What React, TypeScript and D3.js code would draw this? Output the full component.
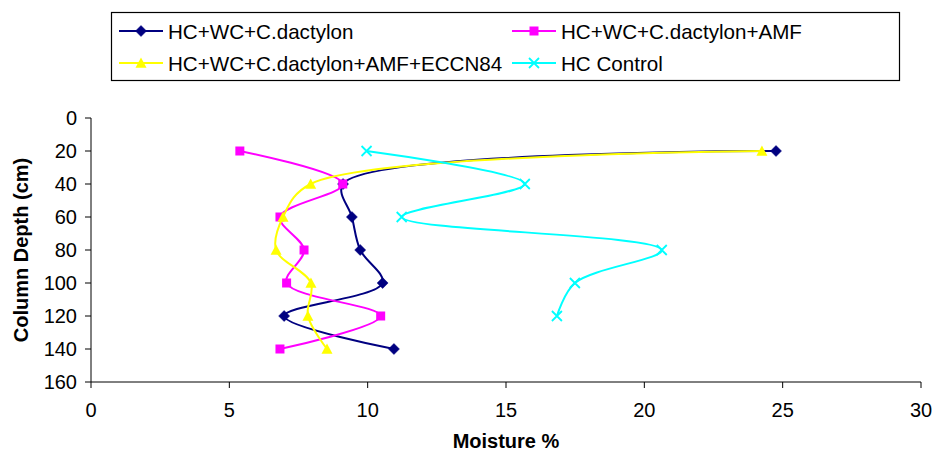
import React from "react";
import * as d3 from "d3";

const depths = [20, 40, 60, 80, 100, 120, 140];
const seriesNames = [
  "HC+WC+C.dactylon",
  "HC+WC+C.dactylon+AMF",
  "HC+WC+C.dactylon+AMF+ECCN84",
  "HC Control",
];
const dactylon = [24.76, 9.11, 9.43, 9.73, 10.54, 6.98, 10.95];
const dactylonAMF = [5.38, 9.1, 6.83, 7.7, 7.07, 10.47, 6.83];
const dactylonAMFECCN = [24.25, 7.94, 6.94, 6.69, 7.95, 7.84, 8.53];
const hcControl = [9.96, 15.68, 11.23, 20.63, 17.49, 16.84];
const xTicks = [0, 5, 10, 15, 20, 25, 30];
const yTicks = [0, 20, 40, 60, 80, 100, 120, 140, 160];

const colors = ["#000080", "#FF00FF", "#FFFF00", "#00FFFF"];
const markerTypes = ["diamond", "square", "triangle", "x"];

const W = 936;
const H = 456;
const left = 91, right = 921, top = 118, bottom = 382;
const font = "'Liberation Sans', Arial, sans-serif";

function Marker({ type, x, y, color }: { type: string; x: number; y: number; color: string }) {
  if (type === "diamond") {
    const s = 5.5;
    return <path d={`M${x},${y - s}L${x + s},${y}L${x},${y + s}L${x - s},${y}Z`} fill={color} stroke={color} strokeWidth={0.5} />;
  }
  if (type === "square") {
    const s = 4.5;
    return <rect x={x - s} y={y - s} width={2 * s} height={2 * s} fill={color} />;
  }
  if (type === "triangle") {
    const s = 5.5;
    return <path d={`M${x},${y - s}L${x + s},${y + s * 0.85}L${x - s},${y + s * 0.85}Z`} fill={color} />;
  }
  const s = 5;
  return (
    <path d={`M${x - s},${y - s}L${x + s},${y + s}M${x - s},${y + s}L${x + s},${y - s}`} stroke={color} strokeWidth={1.8} fill="none" />
  );
}

export default function App() {
  const x = d3.scaleLinear().domain([0, 30]).range([left, right]);
  const y = d3.scaleLinear().domain([0, 160]).range([top, bottom]);
  const allSeries = [dactylon, dactylonAMF, dactylonAMFECCN, hcControl];
  const line = d3
    .line<[number, number]>()
    .x((d) => x(d[0]))
    .y((d) => y(d[1]))
    .curve(d3.curveCatmullRom.alpha(0.5));

  const legendItems = [
    { lx: 119, ly: 31 },
    { lx: 512, ly: 31 },
    { lx: 119, ly: 63 },
    { lx: 512, ly: 63 },
  ];

  return (
    <svg width={W} height={H} style={{ position: "absolute", left: 0, top: 0, background: "#fff" }} fontFamily={font}>
      <rect x={0} y={0} width={W} height={H} fill="#fff" />
      {/* legend */}
      <rect x={111.5} y={12.5} width={788} height={68} fill="none" stroke="#000" strokeWidth={1.2} />
      {seriesNames.map((name, i) => {
        const { lx, ly } = legendItems[i];
        return (
          <g key={name}>
            <line x1={lx} x2={lx + 44} y1={ly} y2={ly} stroke={colors[i]} strokeWidth={2} />
            <Marker type={markerTypes[i]} x={lx + 22} y={ly} color={colors[i]} />
            <text x={lx + 49} y={ly + 7.5} fontSize={20.6} fill="#000">{name}</text>
          </g>
        );
      })}
      {/* axes */}
      <line x1={left} x2={left} y1={top} y2={bottom} stroke="#000" strokeWidth={1} />
      <line x1={left} x2={right} y1={bottom} y2={bottom} stroke="#000" strokeWidth={1} />
      {yTicks.map((t) => (
        <g key={"y" + t}>
          <line x1={left - 6} x2={left} y1={y(t)} y2={y(t)} stroke="#000" />
          <text x={77} y={y(t) + 7} textAnchor="end" fontSize={20} fill="#000">{t}</text>
        </g>
      ))}
      {xTicks.map((t) => (
        <g key={"x" + t}>
          <line x1={x(t)} x2={x(t)} y1={bottom} y2={bottom + 6} stroke="#000" />
          <text x={x(t)} y={417} textAnchor="middle" fontSize={20} fill="#000">{t}</text>
        </g>
      ))}
      <text x={(left + right) / 2} y={448} textAnchor="middle" fontSize={20} fontWeight="bold" fill="#000">Moisture %</text>
      <text transform={`translate(28,${(top + bottom) / 2}) rotate(-90)`} textAnchor="middle" fontSize={20} fontWeight="bold" fill="#000">Column Depth (cm)</text>
      {/* series */}
      {allSeries.map((vals, i) => {
        const pts: [number, number][] = vals.map((v, j) => [v, depths[j]]);
        return (
          <g key={"s" + i}>
            <path d={line(pts) || ""} fill="none" stroke={colors[i]} strokeWidth={2} />
            {pts.map((p, j) => (
              <Marker key={j} type={markerTypes[i]} x={x(p[0])} y={y(p[1])} color={colors[i]} />
            ))}
          </g>
        );
      })}
    </svg>
  );
}
